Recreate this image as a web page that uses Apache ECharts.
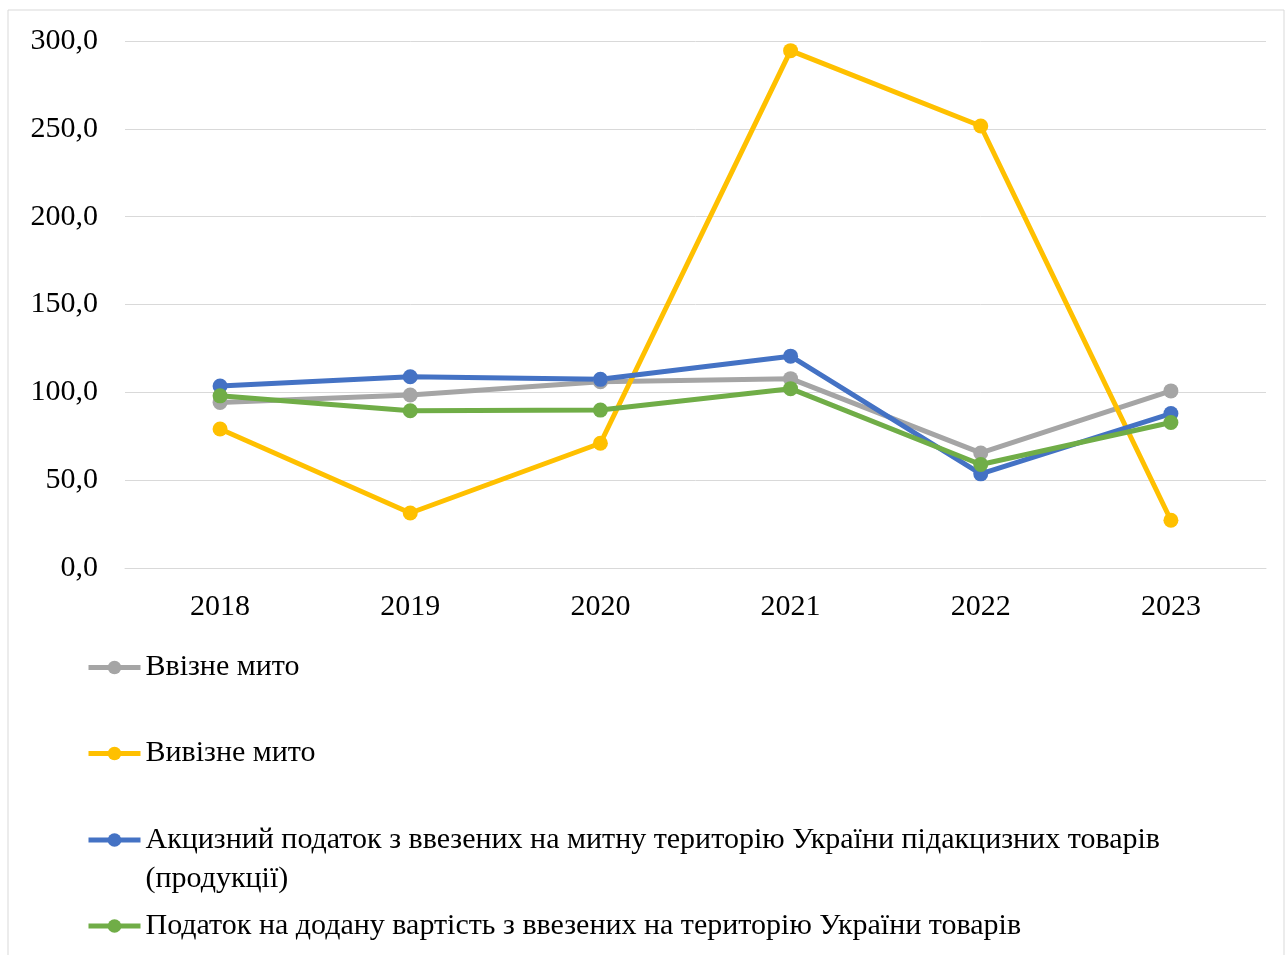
<!DOCTYPE html>
<html>
<head>
<meta charset="utf-8">
<script src="https://cdn.jsdelivr.net/npm/echarts@6/dist/echarts.min.js"></script>
<style>
  html, body { margin: 0; padding: 0; background: #fff; }
  #main { width: 1286px; height: 955px; }
</style>
</head>
<body>
<div id="main"></div>
<script>
// дані діаграми
var years = ['2018', '2019', '2020', '2021', '2022', '2023'];
var importDuty = [94.2, 98.5, 106.0, 107.8, 65.5, 100.8];
var exportDuty = [79.1, 31.3, 71.0, 294.5, 251.6, 27.2];
var exciseImport = [103.6, 108.9, 107.4, 120.6, 53.6, 87.9];
var vatImport = [98.0, 89.5, 89.9, 102.1, 58.9, 82.8];

var names = [
    'Ввізне мито',
    'Вивізне мито',
    'Акцизний податок з ввезених на митну територію України підакцизних товарів (продукції)',
    'Податок на додану вартість з ввезених на територію України товарів'
];
var colors = ['#A5A5A5', '#FFC000', '#4472C4', '#70AD47'];

var font = 'Liberation Serif';
var fs = 30;

var myChart = echarts.init(document.getElementById('main'));

function makeSeries(i, data) {
    return {
        name: names[i],
        type: 'line',
        data: data,
        symbol: 'circle',
        symbolSize: 15,
        color: colors[i],
        lineStyle: { width: 5, color: colors[i] },
        itemStyle: { color: colors[i] }
    };
}

var legendBase = {
    orient: 'vertical',
    left: 86,
    padding: 0,
    itemWidth: 52,
    itemHeight: 17,
    lineStyle: { width: 5 },
    textStyle: { fontFamily: font, fontSize: fs, color: '#000', lineHeight: 39 }
};

var option = {
    animation: false,
    graphic: [{
        type: 'rect',
        shape: { x: 8, y: 10, width: 1276, height: 960 },
        style: { fill: 'none', stroke: '#d9d9d9', lineWidth: 1 },
        silent: true
    }],
    grid: { left: 125, right: 20, top: 41, bottom: 387 },
    xAxis: {
        type: 'category',
        data: years,
        boundaryGap: true,
        axisLine: { lineStyle: { color: '#d9d9d9', width: 1 } },
        axisTick: { show: false },
        axisLabel: { fontFamily: font, fontSize: fs, color: '#000', margin: 24 }
    },
    yAxis: {
        type: 'value',
        min: 0,
        max: 300,
        interval: 50,
        axisLine: { show: false },
        axisTick: { show: false },
        splitLine: { lineStyle: { color: '#d9d9d9', width: 1 } },
        axisLabel: {
            fontFamily: font, fontSize: fs, color: '#000', margin: 27,
            formatter: function (v) { return v.toFixed(1).replace('.', ','); }
        }
    },
    legend: [
        echarts.util.merge({ top: 648, itemGap: 47, data: [names[0], names[1]] }, legendBase, false),
        echarts.util.merge({
            top: 781.5,
            data: [names[2]],
            // порожній перший рядок, щоб перший рядок тексту стояв навпроти значка
            formatter: function () {
                return '\nАкцизний податок з ввезених на митну територію України підакцизних товарів\n(продукції)';
            }
        }, legendBase, false),
        echarts.util.merge({ top: 906.5, data: [names[3]] }, legendBase, false)
    ],
    series: [
        makeSeries(0, importDuty),
        makeSeries(1, exportDuty),
        makeSeries(2, exciseImport),
        makeSeries(3, vatImport)
    ]
};

myChart.setOption(option);
</script>
</body>
</html>
